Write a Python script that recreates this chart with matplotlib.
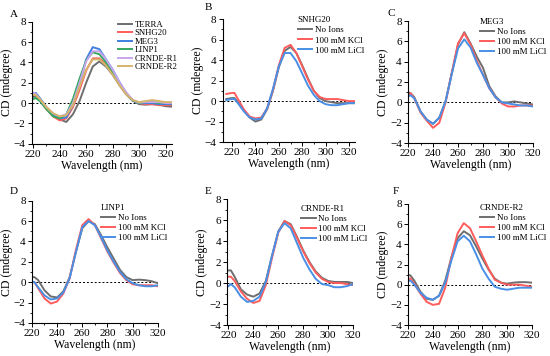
"""CD spectra of G4-forming RNAs (six panels)."""

import matplotlib
matplotlib.use("Agg")
import matplotlib.pyplot as plt
import matplotlib.ticker as mticker

plt.rcParams["font.family"] = ["Liberation Serif", "DejaVu Serif"]

WAVELENGTH = [220, 222, 225, 230, 235, 240, 245, 250, 255, 260, 265,
              270, 275, 280, 285, 290, 295, 300, 305, 310, 315, 320]
WAVELENGTH_A = WAVELENGTH + [325]
WAVELENGTH_B = [215] + WAVELENGTH + [325]

# Panel A: all RNAs, no ions (220-325 nm)
A_NAMES = ["TERRA", "SNHG20", "MEG3", "LINP1", "CRNDE-R1", "CRNDE-R2"]
A_COLORS = ["#6e6e6e", "#ff5c5c", "#3f7fe0", "#33a860", "#c7a5ec", "#d6b46a"]
A_TERRA = [0.6, 0.7, 0.3, -0.5, -1.2, -1.6, -1.85, -1.1, 0.2, 2.0, 3.6,
           4.1, 3.6, 2.8, 1.8, 0.9, 0.25, -0.1, -0.15, -0.1, -0.15, -0.3, -0.35]
A_SNHG20 = [0.9, 0.8, 0.3, -0.6, -1.3, -1.7, -1.5, -0.4, 1.3, 3.2, 4.4,
            4.4, 3.8, 2.9, 1.9, 1.0, 0.3, 0.0, -0.1, -0.1, -0.2, -0.2, -0.2]
A_MEG3 = [0.9, 1.0, 0.5, -0.4, -1.1, -1.5, -1.4, -0.2, 1.8, 4.3, 5.5,
          5.3, 4.3, 3.3, 2.1, 1.05, 0.25, 0.0, 0.0, 0.0, -0.1, -0.1, -0.1]
A_LINP1 = [0.4, 0.5, 0.2, -0.6, -1.3, -1.5, -1.1, 0.4, 2.4, 4.2, 5.0,
           4.8, 4.0, 3.0, 1.9, 1.0, 0.3, 0.0, 0.1, 0.1, 0.0, 0.0, 0.0]
A_CRNDE_R1 = [1.0, 0.9, 0.4, -0.4, -1.0, -1.3, -1.1, 0.0, 2.0, 4.1, 5.1,
              5.1, 4.3, 3.3, 2.1, 1.1, 0.35, 0.05, 0.1, 0.1, 0.1, 0.0, 0.0]
A_CRNDE_R2 = [0.8, 0.8, 0.4, -0.4, -1.0, -1.3, -1.2, -0.2, 1.6, 3.3, 4.3,
              4.3, 3.7, 2.8, 1.8, 0.9, 0.3, 0.1, 0.2, 0.3, 0.2, 0.1, 0.1]

# Panels B-F: each RNA in three buffers
ION_LABELS = ["No Ions", "100 mM KCl", "100 mM LiCl"]
ION_COLORS = ["#6e6e6e", "#ff5c5c", "#4a8fe6"]

# SNHG20 spectra cover 215-325 nm
SNHG20_NONE = [0.2, 0.3, 0.3, -0.1, -0.9, -1.6, -2.0, -1.8, -0.8, 1.0, 3.3, 4.9,
               5.3, 4.7, 3.5, 2.2, 1.0, 0.3, 0.0, -0.1, -0.2, -0.2, -0.2, -0.2]
SNHG20_KCL = [0.7, 0.8, 0.8, 0.2, -0.8, -1.5, -1.7, -1.6, -0.7, 1.1, 3.5, 5.2,
              5.5, 4.7, 3.4, 2.1, 1.0, 0.4, 0.2, 0.2, 0.2, 0.1, 0.0, 0.0]
SNHG20_LICL = [0.1, 0.2, 0.2, -0.2, -1.0, -1.6, -1.8, -1.7, -0.7, 1.2, 3.4, 4.7,
               4.7, 3.9, 2.7, 1.5, 0.6, 0.0, -0.3, -0.4, -0.4, -0.3, -0.2, -0.2]

MEG3_NONE = [1.0, 0.9, 0.5, -0.9, -1.7, -2.1, -1.5, 0.1, 2.9, 5.7, 6.9,
             5.8, 4.5, 3.4, 1.6, 0.6, 0.0, 0.0, 0.1, 0.0, -0.1, -0.2]
MEG3_KCL = [0.7, 0.9, 0.4, -1.0, -1.8, -2.5, -2.0, 0.0, 2.9, 5.8, 6.8,
            5.7, 4.1, 2.7, 1.4, 0.5, -0.1, -0.4, -0.4, -0.3, -0.3, -0.3]
MEG3_LICL = [0.6, 0.7, 0.4, -0.9, -1.7, -2.1, -1.5, 0.1, 2.8, 5.3, 6.2,
             5.4, 3.9, 2.7, 1.4, 0.5, 0.0, -0.1, -0.2, -0.3, -0.3, -0.4]

LINP1_NONE = [0.5, 0.5, 0.2, -0.8, -1.4, -1.5, -0.9, 0.5, 3.0, 5.3, 6.0,
              5.7, 4.6, 3.4, 2.3, 1.2, 0.5, 0.2, 0.25, 0.2, 0.1, -0.1]
LINP1_KCL = [0.0, 0.0, -0.6, -1.6, -2.1, -1.9, -1.1, 0.4, 3.2, 5.6, 6.2,
             5.6, 4.3, 3.0, 1.9, 0.9, 0.2, -0.2, -0.3, -0.3, -0.3, -0.4]
LINP1_LICL = [0.1, 0.0, -0.5, -1.3, -1.7, -1.6, -1.0, 0.4, 3.0, 5.4, 6.0,
              5.6, 4.4, 3.1, 2.0, 1.0, 0.3, -0.1, -0.3, -0.4, -0.4, -0.3]

CRNDE_R1_NONE = [1.2, 1.2, 0.6, -0.6, -1.1, -1.3, -1.0, 0.2, 2.6, 4.9, 5.9,
                 5.6, 4.4, 3.1, 2.0, 1.1, 0.5, 0.2, 0.1, 0.1, 0.1, 0.0]
CRNDE_R1_KCL = [0.6, 0.6, 0.2, -0.8, -1.5, -1.9, -1.7, -0.2, 2.4, 4.8, 5.9,
                5.5, 4.3, 3.0, 1.9, 1.0, 0.4, 0.1, 0.0, 0.0, -0.1, -0.2]
CRNDE_R1_LICL = [-0.3, -0.1, -0.4, -1.3, -1.8, -1.7, -1.3, 0.1, 2.6, 4.9, 5.7,
                 5.2, 3.8, 2.4, 1.3, 0.4, -0.1, -0.2, -0.4, -0.4, -0.3, -0.1]

CRNDE_R2_NONE = [1.0, 0.9, 0.4, -0.7, -1.4, -1.5, -1.1, 0.4, 2.7, 4.6, 5.3,
                 4.9, 3.8, 2.6, 1.5, 0.6, 0.2, 0.1, 0.2, 0.25, 0.25, 0.2]
CRNDE_R2_KCL = [0.6, 0.6, 0.1, -0.9, -1.7, -2.0, -1.9, -0.3, 2.7, 5.1, 6.1,
                5.6, 4.3, 2.9, 1.6, 0.5, 0.2, 0.0, 0.0, 0.0, -0.1, -0.2]
CRNDE_R2_LICL = [0.4, 0.4, 0.0, -0.8, -1.3, -1.5, -1.1, 0.2, 2.4, 4.3, 4.85,
                 4.3, 3.0, 1.6, 0.6, -0.2, -0.4, -0.5, -0.4, -0.3, -0.3, -0.3]


def style_axes(ax, letter, lx, ly, xlim=(220, 320)):
    ax.axhline(0, color="black", linestyle=(0, (2, 2)), linewidth=0.7, zorder=0)
    ax.set_xlim(*xlim)
    ax.set_ylim(-4, 8)
    ax.set_xticks([220, 240, 260, 280, 300, 320])
    ax.xaxis.set_minor_locator(mticker.FixedLocator([230, 250, 270, 290, 310]))
    ax.yaxis.set_major_locator(mticker.MultipleLocator(2))
    ax.yaxis.set_minor_locator(mticker.MultipleLocator(1))
    ax.yaxis.set_major_formatter(
        mticker.FuncFormatter(lambda v, _: f"{int(v)}".replace("-", "\u2212")))
    ax.tick_params(which="major", length=3, width=0.7, labelsize=8, pad=1.5)
    ax.tick_params(which="minor", length=1.5, width=0.6)
    ax.spines[["top", "right"]].set_visible(False)
    for s in ("left", "bottom"):
        ax.spines[s].set_linewidth(0.8)
    ax.set_xlabel("Wavelength (nm)", fontsize=8.5, labelpad=0.5)
    ax.set_ylabel("CD (mdegree)", fontsize=8.5, labelpad=0.5)
    ax.figure.text(lx, ly, letter, fontsize=8, ha="left", va="center")


def draw_legend(ax, anchor, title=None, size=6.5, spacing=0.2):
    leg = ax.legend(loc="upper left", bbox_to_anchor=anchor, frameon=False,
                    fontsize=size, title=title, title_fontsize=size,
                    handlelength=1.6, handletextpad=0.3, labelspacing=spacing,
                    borderaxespad=0.0, borderpad=0.0)
    leg._legend_box.align = "left"


fig = plt.figure(figsize=(5.5, 3.56), dpi=100)

# ── Panel A ──────────────────────────────────────────────────────────────────
ax = fig.add_axes([0.058, 0.596, 0.255, 0.343])
for name, color, vals in zip(
        A_NAMES, A_COLORS,
        [A_TERRA, A_SNHG20, A_MEG3, A_LINP1, A_CRNDE_R1, A_CRNDE_R2]):
    ax.plot(WAVELENGTH_A, vals, color=color, linewidth=1.4, label=name)
style_axes(ax, "A", 0.018, 0.958, xlim=(219, 325))
draw_legend(ax, (0.614, 1.01), size=6.3, spacing=0.05)

# ── Panels B-F ───────────────────────────────────────────────────────────────
PANELS = [
    ("B", "SNHG20", [0.405, 0.601, 0.240, 0.345], (0.373, 0.978),
     (0.568, 1.024), WAVELENGTH_B, (212, 325),
     [SNHG20_NONE, SNHG20_KCL, SNHG20_LICL]),
    ("C", "MEG3", [0.742, 0.598, 0.227, 0.343], (0.705, 0.961),
     (0.576, 1.025), WAVELENGTH, (220, 320),
     [MEG3_NONE, MEG3_KCL, MEG3_LICL]),
    ("D", "LINP1", [0.058, 0.093, 0.229, 0.343], (0.018, 0.461),
     (0.548, 0.975), WAVELENGTH, (220, 320),
     [LINP1_NONE, LINP1_KCL, LINP1_LICL]),
    ("E", "CRNDE-R1", [0.413, 0.087, 0.229, 0.354], (0.373, 0.463),
     (0.587, 0.952), WAVELENGTH, (219, 320),
     [CRNDE_R1_NONE, CRNDE_R1_KCL, CRNDE_R1_LICL]),
    ("F", "CRNDE-R2", [0.742, 0.087, 0.225, 0.340], (0.714, 0.463),
     (0.580, 1.0), WAVELENGTH, (220, 320),
     [CRNDE_R2_NONE, CRNDE_R2_KCL, CRNDE_R2_LICL]),
]

for letter, title, rect, (lx, ly), anchor, wl, xlim, series in PANELS:
    ax = fig.add_axes(rect)
    for label, color, vals in zip(ION_LABELS, ION_COLORS, series):
        ax.plot(wl, vals, color=color, linewidth=1.4, label=label)
    style_axes(ax, letter, lx, ly, xlim=xlim)
    draw_legend(ax, anchor, title)

fig.savefig("out.png", dpi=100)
